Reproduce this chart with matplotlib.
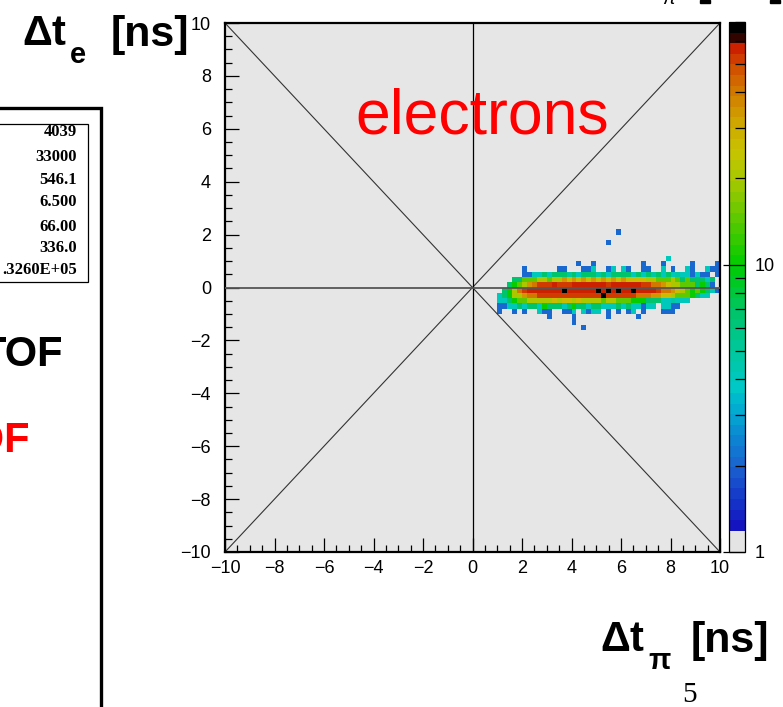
import numpy as np
import matplotlib
matplotlib.use("Agg")
from matplotlib import pyplot as plt
from matplotlib.colors import LinearSegmentedColormap, ListedColormap, LogNorm
from matplotlib.patches import Rectangle
from matplotlib.ticker import MultipleLocator, FixedLocator

plt.rcParams["font.family"] = ["Liberation Sans", "DejaVu Sans"]
plt.rcParams["mathtext.fontset"] = "custom"
plt.rcParams["mathtext.rm"] = "Liberation Sans"
plt.rcParams["mathtext.it"] = "Liberation Sans:italic"
plt.rcParams["mathtext.bf"] = "Liberation Sans:bold"

W, H = 783, 707

# histogram binning: 100 x 100 bins of 0.2 ns
nbins = 100
edges = np.linspace(-10, 10, nbins + 1)

# bin contents, one string per dt_e row (lower edge), columns from dt_pi = 1.0 ns
row_x0 = 1.0
count_codes = {"b": 2, "c": 3, "t": 4, "u": 5, "g": 7, "G": 10, "l": 14,
               "y": 20, "Y": 26, "o": 33, "O": 42, "r": 50, "R": 58, "K": 66}
rows = {
    2.0: "                        b                    ",
    1.6: "                      b                      ",
    1.0: "                                  t          ",
    0.8: "                b  b         b   b     b    b",
    0.6: "     b      bb   bbt  bt tb  bb  t b  tb  tbb",
    0.4: "     bbttgtgggugtgggugtggggtgtgugtgtuttbtbb b ",
    0.2: "   gglllyylyyoYoYoYoYoYoYoYYYYyylllylglgggtg ",
    0.0: "  gGlyoOrrrRrrrRRRRRRRrRRRRRRrrOOoYyylllgGgb ",
    -0.2: " gGyOrRRRRRRRKRRRRRRKRKRKRRKRRRRrOOoYylGlGgtb",
    -0.4: "tgGyyoOOrrrrrrrrrrrrrKrrrrrrOOOooYYylllGgtt  ",
    -0.6: "ttgGllyyyyyYyYYyYyyyylyylllGGGgggttuttt      ",
    -0.8: "bbttgtggtGgggtgGggtggtttgtgttbtt ttbb        ",
    -1.0: "b  b b  tbb  bbt tbtt b b bt b   bbb         ",
    -1.2: "          b    b      b     b                ",
    -1.4: "               b                             ",
    -1.6: "                 b                           ",
}

stat_values = ["4039", "33000", "546.1", "6.500", "66.00", "336.0", ".3260E+05"]
stat_rows_px = [132, 157, 180, 202, 227, 248, 270]

counts = np.zeros((nbins, nbins))
i0 = int(round((row_x0 + 10) / 0.2))
for y0, s in rows.items():
    j = int(round((y0 + 10) / 0.2))
    for k, ch in enumerate(s):
        if ch != " ":
            counts[j, i0 + k] = count_codes[ch]
counts = np.ma.masked_equal(counts, 0)

# palette: grey floor, blue -> green -> yellow -> red, black top
stops = [(0.0, "#e4e4e4"), (0.04, "#e4e4e4"), (0.041, "#1410c0"),
         (0.10, "#1436c8"), (0.16, "#1a62d0"), (0.22, "#0a8ad2"),
         (0.28, "#00b2d0"), (0.31, "#00c8c6"), (0.37, "#00c8a2"),
         (0.45, "#00c46c"), (0.54, "#00cc00"), (0.62, "#52c800"),
         (0.70, "#a6c800"), (0.76, "#c8c400"), (0.82, "#d0a000"),
         (0.88, "#d27000"), (0.93, "#d04000"), (0.965, "#c81000"),
         (0.975, "#000000"), (1.0, "#000000")]
smooth = LinearSegmentedColormap.from_list("pal", stops)
palette = ListedColormap(smooth((np.arange(50) + 0.5) / 50))
norm = LogNorm(vmin=1, vmax=70)


def fx(px):
    return px / W


def fy(py):
    return 1 - py / H


fig = plt.figure(figsize=(W / 100, H / 100), dpi=100)

ax = fig.add_axes([fx(225), fy(552), 495 / W, 529 / H])
ax.set_facecolor("#e6e6e6")
mesh = ax.pcolormesh(edges, edges, counts, cmap=palette, norm=norm, zorder=1)

ax.plot([-10, 10], [-10, 10], color="#333333", lw=0.8, zorder=2)
ax.plot([-10, 10], [10, -10], color="#333333", lw=0.8, zorder=2)
ax.axvline(0, color="black", lw=0.9, zorder=2)
ax.axhline(0, color="#555555", lw=1.3, zorder=3)

ax.set_xlim(-10, 10)
ax.set_ylim(-10, 10)
ax.xaxis.set_major_locator(MultipleLocator(2))
ax.yaxis.set_major_locator(MultipleLocator(2))
ax.xaxis.set_minor_locator(MultipleLocator(0.5))
ax.yaxis.set_minor_locator(MultipleLocator(0.5))
ax.tick_params(which="both", direction="in", top=False, right=False,
               labelsize=13, color="black")
ax.tick_params(which="major", length=10, width=0.9)
ax.tick_params(which="minor", length=5, width=0.9)
ax.tick_params(axis="x", pad=6)
ax.tick_params(axis="y", pad=10)
for sp in ax.spines.values():
    sp.set_linewidth(1.6)

ax.text(0.4, 5.84, "electrons", color="#ff0000", fontsize=45,
        ha="center", va="baseline", zorder=4)

# colour scale
cax = fig.add_axes([fx(729), fy(552), 16 / W, 530 / H])
cb = fig.colorbar(mesh, cax=cax)
cb.outline.set_linewidth(0.9)
cb.set_ticks([1, 10])
cb.set_ticklabels(["1", "10"])
cax.yaxis.set_minor_locator(FixedLocator([2, 3, 4, 5, 6, 7, 8, 9, 20, 30, 40, 50, 60, 70]))
cax.tick_params(which="both", direction="in", right=True, left=False,
                labelsize=13, pad=7, width=0.9)
cax.tick_params(which="major", length=16)
cax.tick_params(which="minor", length=7)


def axis_title(x_left, x_right, base, sub, sub_left, sub_base):
    fig.text(fx(x_left), fy(base), r"$\mathbf{\Delta t}$", fontsize=30,
             ha="left", va="baseline")
    fig.text(fx(sub_left), fy(sub_base), sub, fontsize=21,
             ha="left", va="baseline")
    fig.text(fx(x_right), fy(base + 1), "[ns]", fontsize=31,
             fontweight="bold", ha="right", va="baseline")


axis_title(22, 189, 45, r"$\mathbf{e}$", 69, 63)
axis_title(600, 769, 651, r"$\mathbf{\pi}$", 648, 669)

fig.text(fx(690), fy(702), "5", fontsize=21, family="Liberation Serif",
         ha="center", va="baseline")

# top line, mostly outside the page
fig.text(fx(670), fy(4), r"$\pi$", fontsize=14, fontweight="bold",
         ha="center", va="baseline")
fig.add_artist(Rectangle((fx(700), fy(3)), 10 / W, 3 / H, color="black",
                         transform=fig.transFigure))
fig.add_artist(Rectangle((fx(770), fy(3)), 10 / W, 3 / H, color="black",
                         transform=fig.transFigure))

# statistics panel on the left edge
fig.add_artist(Rectangle((fx(-20), fy(720)), 121 / W, 612 / H, fill=False,
                         lw=2.4, edgecolor="black", transform=fig.transFigure))
fig.add_artist(Rectangle((fx(-20), fy(282)), 108 / W, 158 / H, fill=False,
                         lw=0.9, edgecolor="black", transform=fig.transFigure))
for val, py in zip(stat_values, stat_rows_px):
    fig.text(fx(77), fy(py), val, fontsize=12, family="Liberation Serif",
             fontweight="bold", ha="right", va="center")

fig.text(fx(63), fy(366), "TOF", fontsize=30, fontweight="bold",
         ha="right", va="baseline")
fig.text(fx(30), fy(452), "TOF", fontsize=30, fontweight="bold",
         color="#ff0000", ha="right", va="baseline")

fig.savefig("out.png", dpi=100)
